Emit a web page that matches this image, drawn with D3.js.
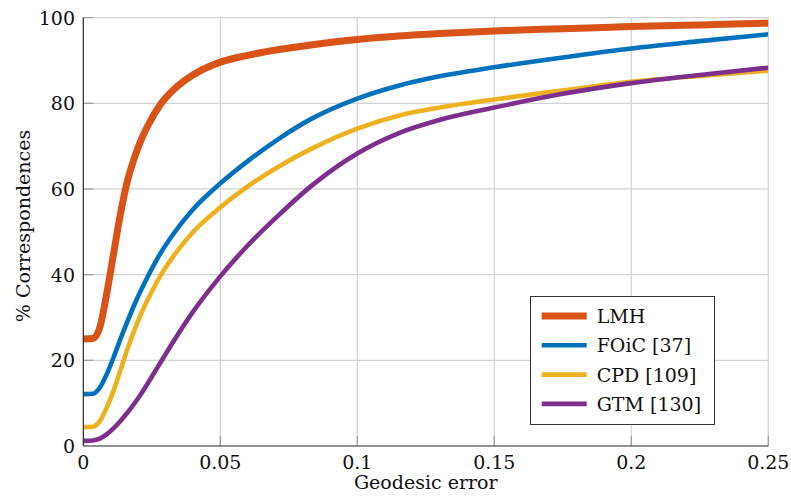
<!DOCTYPE html>
<html>
<head>
<meta charset="utf-8">
<script src="https://cdn.jsdelivr.net/npm/d3@7"></script>
<style>
  html, body { margin: 0; padding: 0; background: #fff; }
  svg { display: block; }
  text { font-family: "DejaVu Serif", serif; fill: #111; }
</style>
</head>
<body>
<svg id="chart" width="791" height="504"></svg>
<script>
// Geodesic error thresholds shared by every curve
const errorThresholds = [0, 0.0035, 0.006, 0.0085, 0.011, 0.0135, 0.016, 0.0185, 0.021, 0.0235,
  0.028, 0.033, 0.04, 0.05, 0.06, 0.072, 0.083, 0.1, 0.115, 0.13, 0.15, 0.175, 0.2, 0.225, 0.25];

// Cumulative % of correspondences below each threshold
const lmhValues  = [25, 25.1, 27.6, 35.4, 44.7, 54, 61.6, 67.0, 71.3, 74.7,
  79.6, 83.2, 86.6, 89.6, 91.2, 92.6, 93.6, 94.9, 95.7, 96.3, 96.9, 97.4, 97.9, 98.3, 98.7];
const foicValues = [12.1, 12.2, 13.6, 16.7, 20.6, 24.9, 28.9, 32.8, 36.3, 39.5,
  44.8, 49.6, 55.2, 61.3, 66.5, 72.0, 76.3, 81.1, 84.1, 86.3, 88.4, 90.7, 92.8, 94.5, 96.1];
const cpdValues  = [4.4, 4.5, 5.8, 8.9, 12.8, 17.6, 22.4, 26.8, 30.7, 34.1,
  39.6, 44.4, 49.9, 55.7, 60.6, 65.5, 69.3, 74.1, 77.1, 79.0, 80.9, 83.0, 85.0, 86.4, 87.6];
const gtmValues  = [1.2, 1.3, 1.7, 2.7, 4.1, 5.8, 7.7, 9.8, 12.1, 14.6,
  19.3, 24.5, 31.3, 39.6, 46.8, 54.3, 60.6, 68.3, 73.0, 76.1, 79.0, 82.2, 84.7, 86.6, 88.3];

const seriesNames  = ["LMH", "FOiC [37]", "CPD [109]", "GTM [130]"];
const seriesValues = [lmhValues, foicValues, cpdValues, gtmValues];
const seriesColors = ["#D95319", "#0072BD", "#EDB120", "#7E2F8E"];
const seriesWidths = [7, 4.6, 4.6, 4.6];

const xTicks = [0, 0.05, 0.1, 0.15, 0.2, 0.25];
const xTickLabels = ["0", "0.05", "0.1", "0.15", "0.2", "0.25"];
const yTicks = [0, 20, 40, 60, 80, 100];

const svg = d3.select("#chart");
const plot = { left: 83.3, right: 768.3, top: 17.6, bottom: 446 };

const x = d3.scaleLinear().domain([0, 0.25]).range([plot.left, plot.right]);
const y = d3.scaleLinear().domain([0, 100]).range([plot.bottom, plot.top]);

// grid
const grid = svg.append("g");
grid.selectAll("line.gx").data(xTicks.slice(1)).join("line")
  .attr("x1", d => x(d)).attr("x2", d => x(d))
  .attr("y1", plot.top).attr("y2", plot.bottom)
  .attr("stroke", "#d2d2d2").attr("stroke-width", 1.2);
grid.selectAll("line.gy").data(yTicks.slice(1)).join("line")
  .attr("x1", plot.left).attr("x2", plot.right)
  .attr("y1", d => y(d)).attr("y2", d => y(d))
  .attr("stroke", "#d2d2d2").attr("stroke-width", 1.2);

// inner tick marks
grid.selectAll("line.tx").data(xTicks.slice(1)).join("line")
  .attr("x1", d => x(d)).attr("x2", d => x(d))
  .attr("y1", plot.bottom).attr("y2", plot.bottom - 10)
  .attr("stroke", "#9a9a9a").attr("stroke-width", 1.2);
grid.selectAll("line.ty").data(yTicks.slice(1)).join("line")
  .attr("x1", plot.left).attr("x2", plot.left + 10)
  .attr("y1", d => y(d)).attr("y2", d => y(d))
  .attr("stroke", "#9a9a9a").attr("stroke-width", 1.2);

// curves
svg.append("defs").append("clipPath").attr("id", "plotClip")
  .append("rect")
  .attr("x", plot.left).attr("y", plot.top - 10)
  .attr("width", plot.right - plot.left).attr("height", plot.bottom - plot.top + 20);

const line = d3.line()
  .x((d, i) => x(errorThresholds[i]))
  .y(d => y(d))
  .curve(d3.curveMonotoneX);

svg.append("g").attr("clip-path", "url(#plotClip)")
  .selectAll("path").data(seriesValues).join("path")
  .attr("d", d => line(d))
  .attr("fill", "none")
  .attr("stroke", (d, i) => seriesColors[i])
  .attr("stroke-width", (d, i) => seriesWidths[i])
  .attr("stroke-linejoin", "round");

// axes lines
svg.append("line")
  .attr("x1", plot.left).attr("x2", plot.left)
  .attr("y1", plot.top).attr("y2", plot.bottom)
  .attr("stroke", "#262626").attr("stroke-width", 1.2);
svg.append("line")
  .attr("x1", plot.left).attr("x2", plot.right)
  .attr("y1", plot.bottom).attr("y2", plot.bottom)
  .attr("stroke", "#262626").attr("stroke-width", 1.2);

// tick labels
svg.append("g").selectAll("text").data(xTicks).join("text")
  .attr("x", d => x(d)).attr("y", 469)
  .attr("text-anchor", "middle")
  .attr("font-size", 19)
  .text((d, i) => xTickLabels[i]);

svg.append("g").selectAll("text").data(yTicks).join("text")
  .attr("x", 75).attr("y", d => y(d) + 7)
  .attr("text-anchor", "end")
  .attr("font-size", 19)
  .text(d => d);

// axis titles
svg.append("text")
  .attr("x", (plot.left + plot.right) / 2).attr("y", 489)
  .attr("text-anchor", "middle").attr("font-size", 19)
  .text("Geodesic error");

svg.append("text")
  .attr("transform", "translate(30,226) rotate(-90)")
  .attr("text-anchor", "middle").attr("font-size", 19)
  .text("% Correspondences");

// legend
const legend = svg.append("g");
legend.append("rect")
  .attr("x", 530.5).attr("y", 296.5).attr("width", 184).attr("height", 128)
  .attr("fill", "#fff").attr("stroke", "#333").attr("stroke-width", 1);
const rows = legend.selectAll("g.row").data(seriesNames).join("g")
  .attr("transform", (d, i) => `translate(0,${316 + i * 29.3})`);
rows.append("line")
  .attr("x1", 541.7).attr("x2", 586.7).attr("y1", 0).attr("y2", 0)
  .attr("stroke", (d, i) => seriesColors[i])
  .attr("stroke-width", (d, i) => seriesWidths[i]);
rows.append("text")
  .attr("x", 596.7).attr("y", 7)
  .attr("font-size", 19)
  .text(d => d);
</script>
</body>
</html>
